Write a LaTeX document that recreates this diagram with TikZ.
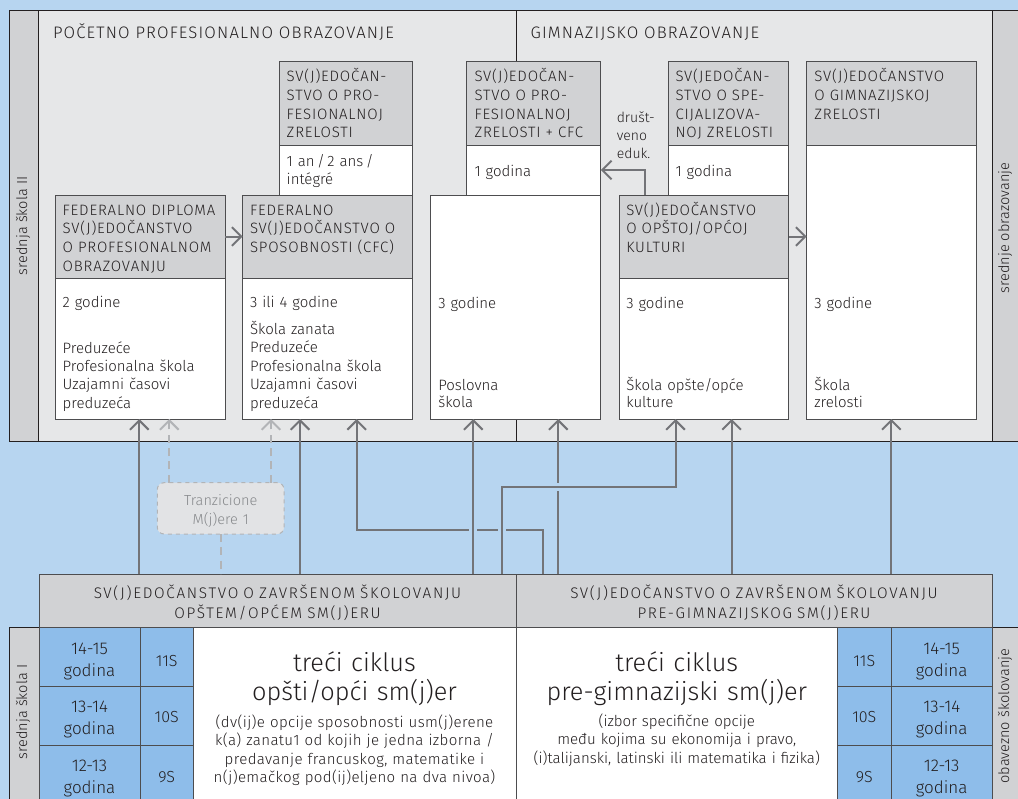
\documentclass[tikz,border=0pt]{standalone}
\usepackage{fontspec}
\setmainfont{Fira Sans}[UprightFont=* Light]
\newfontfamily\capsT{Fira Sans}[UprightFont=* Light,LetterSpace=7]
\newfontfamily\capsH{Fira Sans}[UprightFont=* Light,LetterSpace=5.5]
\newfontfamily\capsB{Fira Sans}[UprightFont=* Light,LetterSpace=11]
\newfontfamily\smallL{Fira Sans}[UprightFont=* Light,LetterSpace=2.5]
\usetikzlibrary{arrows.meta,fit}
\definecolor{bgblue}{RGB}{183,213,240}
\definecolor{panel}{RGB}{230,231,232}
\definecolor{hgray}{RGB}{209,210,212}
\definecolor{cellblue}{RGB}{142,189,234}
\definecolor{arrgray}{RGB}{115,116,120}
\definecolor{dashgray}{RGB}{178,180,183}
\definecolor{edge}{RGB}{77,77,79}
\definecolor{ink}{RGB}{35,31,32}
\definecolor{tgray}{RGB}{135,137,140}
\definecolor{tfill}{RGB}{226,227,229}
\newcommand\mkbox[6]{\node[#1, fit={(#3,#4) (#5,#6)}] (#2) {};}
\newcommand\fs[2]{\fontsize{#1}{#2}\selectfont}
\begin{document}
\begin{tikzpicture}[x=0.75pt,y=-0.75pt,
 every node/.style={inner sep=0pt,outer sep=0pt,text=ink},
 pnl/.style={draw=ink,fill=panel,line width=0.75pt},
 strip/.style={draw=ink,fill=hgray,line width=0.75pt},
 hdr/.style={draw=edge,fill=hgray,line width=0.75pt},
 wht/.style={draw=edge,fill=white,line width=0.75pt},
 cell/.style={draw=edge,fill=cellblue,line width=0.75pt},
 tzbox/.style={draw=dashgray,fill=tfill,line width=0.75pt,dashed,rounded corners=5pt},
 arr/.style={draw=arrgray,line width=1.5pt,-{Straight Barb[length=7pt,width=14pt]}},
 darr/.style={draw=dashgray,line width=1.5pt,dash pattern=on 6pt off 4pt,-{Straight Barb[length=7pt,width=14pt]}},
 dln/.style={draw=dashgray,line width=1.5pt,dash pattern=on 6pt off 4pt},
 divl/.style={draw=ink,line width=0.75pt},
 sec/.style={anchor=base west,font=\capsT\fs{12.5}{15}},
 htx/.style={anchor=base west,align=left,text width=150pt,font=\capsH\fs{11.25}{14}},
 btx/.style={anchor=base west,align=left,text width=150pt,font=\fs{11.25}{13.75}},
 vlab/.style={rotate=90,font=\fs{10.9}{13}},
 bhtx/.style={anchor=base,align=center,text width=340pt,font=\capsB\fs{11.5}{15}},
 agetx/.style={anchor=base,align=center,text width=70pt,font=\fs{12.75}{16.5}},
 grtx/.style={anchor=base,font=\fs{12}{15}},
 bigtx/.style={anchor=base,align=center,text width=300pt,font=\fs{19}{22}},
 smtx/.style={anchor=base,align=center,text width=300pt,font=\fs{11.3}{13.7}},
]
\useasboundingbox (0,0) rectangle (1018,799);
\clip (0,0) rectangle (1018,799);
\fill[bgblue] (0,0) rectangle (1018,799);

% ---------- upper panel ----------
\mkbox{pnl}{top}{9}{11}{1030}{441}
\mkbox{strip}{stL}{9}{11}{38.3}{441}
\mkbox{strip}{stR}{992}{11}{1030}{441}
\coordinate (dv) at (516,0);
\draw[divl] (dv |- top.north) -- (dv |- top.south);
\node[vlab] (lab1) at (23,226) {srednja škola II};
\node[vlab] (lab2) at (1005,228) {srednje obrazovanje};
\node[sec] (sec1) at (53,39) {POČETNO PROFESIONALNO OBRAZOVANJE};
\node[sec] (sec2) at (530.6,39) {GIMNAZIJSKO OBRAZOVANJE};

% boxes
\mkbox{hdr}{Ah}{279}{61.7}{412.7}{145}
\mkbox{wht}{Ab}{279}{145}{412.7}{195}
\mkbox{hdr}{Bh}{55}{195}{225}{278}
\mkbox{wht}{Bb}{55}{278}{225}{419}
\mkbox{hdr}{Ch}{242.7}{195}{412.7}{278}
\mkbox{wht}{Cb}{242.7}{278}{412.7}{419}
\mkbox{hdr}{Eh}{466.5}{61.7}{600.8}{145}
\mkbox{wht}{Eb}{466.5}{145}{600.8}{195}
\mkbox{wht}{Db}{430.7}{195}{600.8}{419}
\mkbox{hdr}{Sh}{668}{61.7}{788.8}{145}
\mkbox{wht}{Sb}{668}{145}{788.8}{195}
\mkbox{hdr}{Oh}{619}{195}{788.8}{278}
\mkbox{wht}{Ob}{619}{278}{788.8}{419}
\mkbox{hdr}{Gh}{806.7}{61.7}{976.8}{145}
\mkbox{wht}{Gb}{806.7}{145}{976.8}{419}

% box texts
\node[htx] (tAh) at (286.7,81.7) {SV(J)EDOČAN-\\STVO O PRO-\\FESIONALNOJ\\ZRELOSTI};
\node[btx,font=\fs{11.25}{13.3}] (tAb) at (286.7,166.7) {1 an\,/\,2 ans\,/\\intégré};
\node[htx] (tBh) at (62.7,215) {FEDERALNO DIPLOMA\\SV(J)EDOČANSTVO\\O PROFESIONALNOM\\OBRAZOVANJU};
\node[btx] (tBb1) at (62.7,307.7) {2 godine};
\node[btx] (tBb2) at (62.7,353.3) {Preduzeće\\Profesionalna škola\\Uzajamni časovi\\preduzeća};
\node[htx] (tCh) at (250,215) {FEDERALNO\\SV(J)EDOČANSTVO O\\SPOSOBNOSTI (CFC)};
\node[btx] (tCb1) at (250,307.7) {3 ili 4 godine};
\node[btx,font=\fs{11.25}{13.9}] (tCb2) at (250,334.3) {Škola zanata\\Preduzeće\\Profesionalna škola\\Uzajamni časovi\\preduzeća};
\node[htx] (tEh) at (474.5,81.7) {SV(J)EDOČAN-\\STVO O PRO-\\FESIONALNOJ\\ZRELOSTI + CFC};
\node[btx] (tEb) at (474.5,176) {1 godina};
\node[btx] (tDb1) at (438.3,308) {3 godine};
\node[btx,font=\fs{11.25}{13.3}] (tDb2) at (438.3,390) {Poslovna\\škola};
\node[htx] (tSh) at (675.5,81.7) {SV(JEDOČAN-\\STVO O SPE-\\CIJALIZOVA-\\NOJ ZRELOSTI};
\node[btx] (tSb) at (675.5,176) {1 godina};
\node[htx] (tOh) at (626.3,215) {SV(J)EDOČANSTVO\\O OPŠTOJ/OPĆOJ\\KULTURI};
\node[btx] (tOb1) at (626.3,308) {3 godine};
\node[btx,font=\fs{11.25}{13.3}] (tOb2) at (626.3,390) {Škola opšte/opće\\kulture};
\node[htx] (tGh) at (814.4,81.7) {SV(J)EDOČANSTVO\\O GIMNAZIJSKOJ\\ZRELOSTI};
\node[btx] (tGb1) at (814.4,308) {3 godine};
\node[btx,font=\fs{11.25}{13.3}] (tGb2) at (814.4,390) {Škola\\zrelosti};
\node[btx,font=\fs{10.5}{13.5}] (tdr) at (616.8,122.3) {društ-\\veno\\eduk.};

% ---------- lower panel ----------
\mkbox{hdr}{hL}{39}{574}{516}{627.7}
\mkbox{hdr}{hR}{516}{574}{992.3}{627.7}
\mkbox{strip}{sbL}{9.3}{627.7}{39}{810}
\mkbox{strip}{sbR}{992.3}{627.7}{1030}{810}
\mkbox{wht}{mL}{193.3}{627.7}{516}{810}
\mkbox{wht}{mR}{516}{627.7}{837.7}{810}
\mkbox{cell}{aL1}{39}{627.7}{140}{686}
\mkbox{cell}{aL2}{39}{686}{140}{745.7}
\mkbox{cell}{aL3}{39}{745.7}{140}{810}
\mkbox{cell}{gL1}{140}{627.7}{193.3}{686}
\mkbox{cell}{gL2}{140}{686}{193.3}{745.7}
\mkbox{cell}{gL3}{140}{745.7}{193.3}{810}
\mkbox{cell}{gR1}{837.7}{627.7}{891}{686}
\mkbox{cell}{gR2}{837.7}{686}{891}{745.7}
\mkbox{cell}{gR3}{837.7}{745.7}{891}{810}
\mkbox{cell}{aR1}{891}{627.7}{992.3}{686}
\mkbox{cell}{aR2}{891}{686}{992.3}{745.7}
\mkbox{cell}{aR3}{891}{745.7}{992.3}{810}

\node[vlab] (lab3) at (23,712) {srednja škola I};
\node[vlab] (lab4) at (1005,716) {obavezno školovanje};
\node[bhtx] (thL) at (277.5,598) {SV(J)EDOČANSTVO O ZAVRŠENOM ŠKOLOVANJU\\OPŠTEM/OPĆEM SM(J)ERU};
\node[bhtx] (thR) at (754,598) {SV(J)EDOČANSTVO O ZAVRŠENOM ŠKOLOVANJU\\PRE-GIMNAZIJSKOG SM(J)ERU};
\node[agetx] (taL1) at (89.5,654.5) {14-15\\godina};
\node[agetx] (taL2) at (89.5,712.2) {13-14\\godina};
\node[agetx] (taL3) at (89.5,771.5) {12-13\\godina};
\node[agetx] (taR1) at (941.7,654.5) {14-15\\godina};
\node[agetx] (taR2) at (941.7,712.2) {13-14\\godina};
\node[agetx] (taR3) at (941.7,771.5) {12-13\\godina};
\node[grtx] (tgL1) at (166.7,666) {11S};
\node[grtx] (tgL2) at (166.7,722.5) {10S};
\node[grtx] (tgL3) at (166.7,782.5) {9S};
\node[grtx] (tgR1) at (864.3,666) {11S};
\node[grtx] (tgR2) at (864.3,722.5) {10S};
\node[grtx] (tgR3) at (864.3,782.5) {9S};
\node[bigtx] (tbL) at (354.5,671.5) {treći ciklus\\opšti/opći sm(j)er};
\node[smtx,font=\smallL\fs{11.3}{13.7}] (tsL) at (354.5,727.7) {(dv(ij)e opcije sposobnosti usm(j)erene\\k(a) zanatu1 od kojih je jedna izborna /\\predavanje francuskog, matematike i\\n(j)emačkog pod(ij)eljeno na dva nivoa)};
\node[bigtx] (tbR) at (676.8,671.5) {treći ciklus\\pre-gimnazijski sm(j)er};
\node[smtx] (tsR) at (676.8,726.7) {(izbor specifične opcije\\među kojima su ekonomija i pravo,\\(i)talijanski, latinski ili matematika i fizika)};

% ---------- transition box ----------
\node[tzbox, fit={(157.3,482.7) (284,534)}] (Tz) {};
\node[anchor=base,align=center,text width=100pt,font=\fs{10.9}{14.25},text=tgray] (tTz) at (220.7,505) {Tranzicione\\M(j)ere 1};

% ---------- connectors ----------
\coordinate (x1) at (139.3,0);
\coordinate (x2) at (300,0);
\coordinate (x3) at (356.7,0);
\coordinate (x4) at (473.3,0);
\coordinate (x5) at (501.7,0);
\coordinate (x6) at (543.3,0);
\coordinate (x7) at (558.3,0);
\coordinate (x8) at (675.5,0);
\coordinate (x9) at (731.6,0);
\coordinate (x10) at (891.4,0);
\coordinate (xd) at (645,0);
\coordinate (xt1) at (169.3,0);
\coordinate (xt2) at (271,0);
\coordinate (y1) at (0,530);
\coordinate (y2) at (0,486.7);

\draw[darr] (xt1 |- Tz.north) -- (xt1 |- Bb.south);
\draw[darr] (xt2 |- Tz.north) -- (xt2 |- Cb.south);
\draw[dln] (Tz.south) -- (Tz.south |- hL.north);

\draw[arr] (x1 |- hL.north) -- (x1 |- Bb.south);
\draw[arr] (x2 |- hL.north) -- (x2 |- Cb.south);
\draw[arr] (x6 |- hR.north) -- (x6 |- y1) -| (x3 |- Cb.south);
\fill[bgblue] (469.3,527.5) rectangle (477.3,532.5);
\fill[bgblue] (497.7,527.5) rectangle (505.7,532.5);
\draw[arr] (x4 |- hL.north) -- (x4 |- Db.south);
\draw[arr] (x7 |- hR.north) -- (x7 |- Db.south);
\fill[bgblue] (555.8,482.7) rectangle (560.8,490.7);
\draw[arr] (x5 |- hL.north) -- (x5 |- y2) -| (x8 |- Ob.south);
\draw[arr] (x9 |- hR.north) -- (x9 |- Ob.south);
\draw[arr] (x10 |- hR.north) -- (x10 |- Gb.south);

\draw[arr] (Bh.east) -- (Ch.west);
\draw[arr] (Oh.east) -- (Oh.east -| Gb.west);
\draw[arr] (xd |- Oh.north) |- (Eb.east);
\end{tikzpicture}
\end{document}
